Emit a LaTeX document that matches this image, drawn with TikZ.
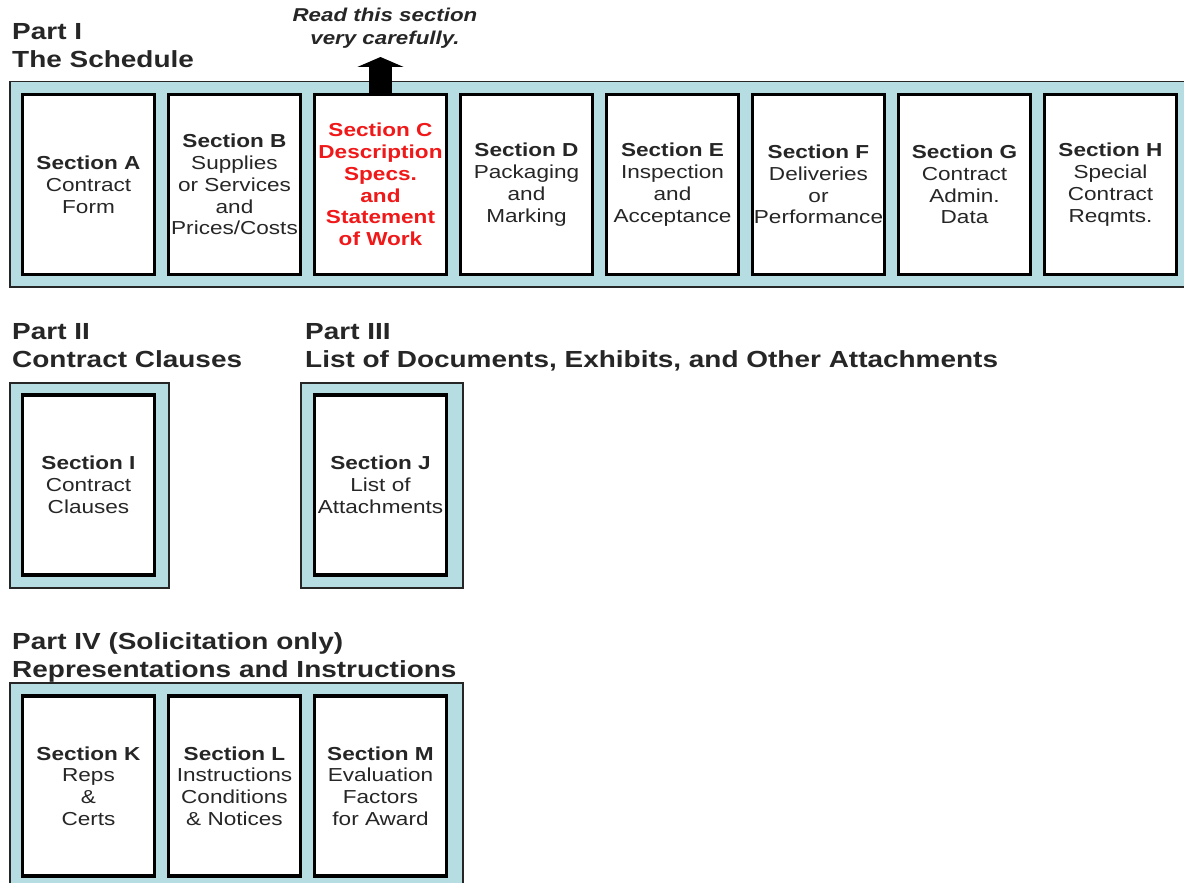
\documentclass[tikz,border=0pt]{standalone}
\usepackage{fontspec}
\setmainfont[FakeStretch=1.2]{Liberation Sans}
\usetikzlibrary{arrows.meta, positioning}
\definecolor{panelblue}{RGB}{182,221,226}
\definecolor{inkgray}{RGB}{38,38,38}
\definecolor{keyred}{RGB}{240,24,24}
\tikzset{
	panel/.style={draw=inkgray, line width=1.5pt, fill=panelblue, anchor=north west, inner sep=0pt},
	secbox/.style={draw=black, line width=3.5pt, fill=white, minimum width=132pt, minimum height=180pt, inner sep=0pt, align=center, text=inkgray, font=\fontsize{18.8}{21.8}\selectfont},
	keybox/.style={secbox, text=keyred, font=\fontsize{18.8}{21.8}\selectfont\bfseries},
	parttitle/.style={anchor=north west, inner sep=0pt, align=left, text=inkgray, font=\fontsize{23.3}{28}\selectfont\bfseries},
	notetext/.style={inner sep=0pt, align=center, text=inkgray, font=\fontsize{18.6}{23}\selectfont\bfseries\itshape}
}
\begin{document}
\begin{tikzpicture}[x=1pt, y=-1pt]
		\clip (0,0) rectangle (1184,883);
			%part I:
			\node[parttitle] (title1) at (12,23) {Part I\\The Schedule};
			\node[panel, minimum width=1190pt, minimum height=205pt] (part1) at (9,81) {};
			\foreach \n/\s/\txt [count=\i from 0] in {
				A/secbox/{\textbf{Section A}\\Contract\\Form},
				B/secbox/{\textbf{Section B}\\Supplies\\or Services\\and\\Prices/Costs},
				C/keybox/{Section C\\Description\\Specs.\\and\\Statement\\of Work},
				D/secbox/{\textbf{Section D}\\Packaging\\and\\Marking},
				E/secbox/{\textbf{Section E}\\Inspection\\and\\Acceptance},
				F/secbox/{\textbf{Section F}\\Deliveries\\or\\Performance},
				G/secbox/{\textbf{Section G}\\Contract\\Admin.\\Data},
				H/secbox/{\textbf{Section H}\\Special\\Contract\\Reqmts.}}
			\node[style=\s] (sec\n) at (88.5+146*\i, 184.5) {\txt};

			%note on section C
			\node[notetext] (note) at (385,28.5) {Read this section\\very carefully.};
			\coordinate (notetip) at (380.5,57);
			\draw[black, line width=23pt, -{Triangle[width=46pt, length=10pt]}] (secC.north) -- (notetip);

			%part II and part III:
			\node[parttitle] (title2) at (12,323) {Part II\\Contract Clauses};
			\node[parttitle] (title3) at (305,323) {Part III\\List of Documents, Exhibits, and Other Attachments};
			\node[panel, minimum width=159pt, minimum height=205pt] (part2) at (9,382) {};
			\node[panel, minimum width=162pt, minimum height=205pt] (part3) at (300,382) {};
			\node[secbox] (secI) at (88.5,485) {\textbf{Section I}\\Contract\\Clauses};
			\node[secbox] (secJ) at (380.5,485) {\textbf{Section J}\\List of\\Attachments};

			%part IV:
			\node[parttitle] (title4) at (12,632) {Part IV (Solicitation only)\\Representations and Instructions};
			\node[panel, minimum width=453pt, minimum height=215pt] (part4) at (9,682) {};
			\foreach \n/\txt [count=\i from 0] in {
				K/{\textbf{Section K}\\Reps\\\&\\Certs},
				L/{\textbf{Section L}\\Instructions\\Conditions\\\& Notices},
				M/{\textbf{Section M}\\Evaluation\\Factors\\for Award}}
			\node[secbox] (sec\n) at (88.5+146*\i, 786) {\txt};
	\end{tikzpicture}
\end{document}
